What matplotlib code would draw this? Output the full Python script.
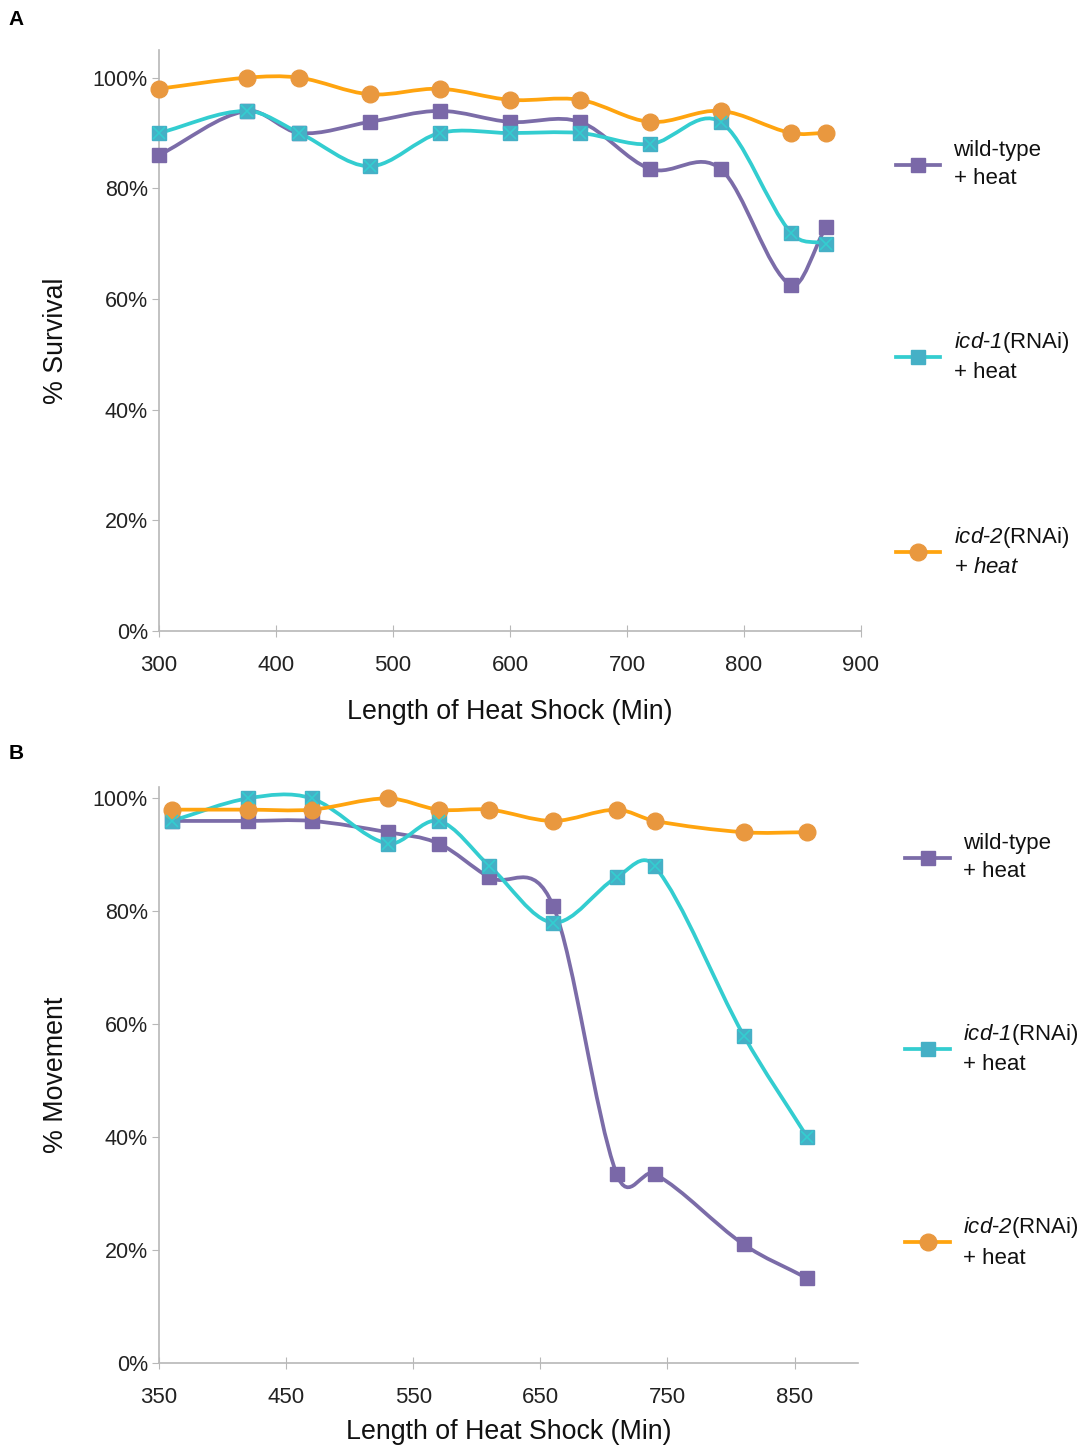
import numpy as np
import matplotlib
matplotlib.use("Agg")
import matplotlib.pyplot as plt
from matplotlib.path import Path
from matplotlib.patches import PathPatch
from matplotlib.lines import Line2D

plt.rcParams["font.family"] = ["Liberation Sans", "DejaVu Sans"]
plt.rcParams["mathtext.fontset"] = "custom"
plt.rcParams["mathtext.it"] = "Liberation Sans:italic"
plt.rcParams["mathtext.sf"] = "Liberation Sans:italic"
plt.rcParams["mathtext.rm"] = "Liberation Sans"

# panel A - survival
surv_x = [300, 375, 420, 480, 540, 600, 660, 720, 780, 840, 870]
surv_wt = [86, 94, 90, 92, 94, 92, 92, 83.5, 83.5, 62.5, 73]
surv_icd1 = [90, 94, 90, 84, 90, 90, 90, 88, 92, 72, 70]
surv_icd2 = [98, 100, 100, 97, 98, 96, 96, 92, 94, 90, 90]

# panel B - movement
move_x = [360, 420, 470, 530, 570, 610, 660, 710, 740, 810, 860]
move_wt = [96, 96, 96, 94, 92, 86, 81, 33.5, 33.5, 21, 15]
move_icd1 = [96, 100, 100, 92, 96, 88, 78, 86, 88, 58, 40]
move_icd2 = [98, 98, 98, 100, 98, 98, 96, 98, 96, 94, 94]

PURPLE = "#7b6ca8"
PURPLE_M = "#7a68a8"
CYAN = "#33cdd0"
CYAN_M = "#45b0c6"
ORANGE = "#ffa40f"
ORANGE_M = "#e9983f"
GRAY = "#b8b8b8"


def smooth_line(ax, x, y, color):
    # smooth curve through the points: cubic hermite as bezier segments
    x = np.asarray(x, float)
    y = np.asarray(y, float)
    n = len(x)
    m = np.zeros(n)
    m[0] = (y[1] - y[0]) / (x[1] - x[0])
    m[-1] = (y[-1] - y[-2]) / (x[-1] - x[-2])
    m[1:-1] = (y[2:] - y[:-2]) / (x[2:] - x[:-2])
    verts = [(x[0], y[0])]
    codes = [Path.MOVETO]
    for i in range(n - 1):
        h = (x[i + 1] - x[i]) / 3
        verts += [(x[i] + h, y[i] + m[i] * h),
                  (x[i + 1] - h, y[i + 1] - m[i + 1] * h),
                  (x[i + 1], y[i + 1])]
        codes += [Path.CURVE4] * 3
    ax.add_patch(PathPatch(Path(verts, codes), fill=False, ec=color,
                           lw=2.7, capstyle="round", joinstyle="round", zorder=2))


def draw_series(ax, x, y, kind):
    if kind == "wt":
        smooth_line(ax, x, y, PURPLE)
        ax.plot(x, y, ls="none", marker="s", ms=10, color=PURPLE_M, zorder=3, clip_on=False)
    elif kind == "icd1":
        smooth_line(ax, x, y, CYAN)
        ax.plot(x, y, ls="none", marker="s", ms=10, color=CYAN_M, zorder=3, clip_on=False)
        ax.plot(x, y, ls="none", marker="x", ms=8, mew=1.2, color=CYAN, zorder=4, clip_on=False)
    else:
        smooth_line(ax, x, y, ORANGE)
        ax.plot(x, y, ls="none", marker="o", ms=12, color=ORANGE_M, zorder=3, clip_on=False)


def style_axis(ax, xlim, ylim, xticks, ylabel, xlabelpad):
    ax.set_xlim(*xlim)
    ax.set_ylim(*ylim)
    ax.set_xticks(xticks)
    ax.set_yticks([0, 20, 40, 60, 80, 100])
    ax.set_yticklabels([f"{v}%" for v in [0, 20, 40, 60, 80, 100]])
    for s in ["top", "right"]:
        ax.spines[s].set_visible(False)
    for s in ["left", "bottom"]:
        ax.spines[s].set_color(GRAY)
        ax.spines[s].set_linewidth(1.2)
    ax.tick_params(axis="x", direction="inout", length=8, color=GRAY, pad=13,
                   labelsize=16, labelcolor="#222222")
    ax.tick_params(axis="y", direction="out", length=5, color=GRAY, pad=3,
                   labelsize=15.5, labelcolor="#222222")
    ax.set_xlabel("Length of Heat Shock (Min)", fontsize=19.3, labelpad=xlabelpad, color="#111111")
    ax.set_ylabel(ylabel, fontsize=19.3, labelpad=17, color="#111111")


def legend_handles():
    wt = Line2D([], [], color=PURPLE, lw=2.7, marker="s", ms=10, mfc=PURPLE_M, mec=PURPLE_M)
    i1 = Line2D([], [], color=CYAN, lw=2.7, marker="s", ms=10, mfc=CYAN_M, mec=CYAN_M)
    i2 = Line2D([], [], color=ORANGE, lw=2.7, marker="o", ms=12, mfc=ORANGE_M, mec=ORANGE_M)
    return [wt, i1, i2]


fig = plt.figure(figsize=(10.78, 14.5), dpi=100)
axA = fig.add_axes([0.1475, 0.5648, 0.6512, 0.4007])
axB = fig.add_axes([0.1475, 0.0600, 0.6485, 0.3972])

draw_series(axA, surv_x, surv_wt, "wt")
draw_series(axA, surv_x, surv_icd1, "icd1")
draw_series(axA, surv_x, surv_icd2, "icd2")
style_axis(axA, (300, 900), (0, 105), range(300, 901, 100), "% Survival", 17)

draw_series(axB, move_x, move_wt, "wt")
draw_series(axB, move_x, move_icd1, "icd1")
draw_series(axB, move_x, move_icd2, "icd2")
style_axis(axB, (350, 900), (0, 102), range(350, 851, 100), "% Movement", 8)

labelsA = ["wild-type\n+ heat", r"$\mathsf{icd}$-$\mathsf{1}$(RNAi)" + "\n+ heat",
           r"$\mathsf{icd}$-$\mathsf{2}$(RNAi)" + "\n" + r"+ $\mathsf{heat}$"]
labelsB = ["wild-type\n+ heat", r"$\mathsf{icd}$-$\mathsf{1}$(RNAi)" + "\n+ heat",
           r"$\mathsf{icd}$-$\mathsf{2}$(RNAi)" + "\n+ heat"]

legA = axA.legend(legend_handles(), labelsA, loc="upper left",
                  bbox_to_anchor=(1.021, 0.88), frameon=False, fontsize=16,
                  labelspacing=6.36, handlelength=2.0, handletextpad=0.6)
legB = axB.legend(legend_handles(), labelsB, loc="upper left",
                  bbox_to_anchor=(1.039, 0.955), frameon=False, fontsize=16,
                  labelspacing=6.3, handlelength=2.0, handletextpad=0.6)
for leg in (legA, legB):
    for t in leg.get_texts():
        t.set_color("#111111")
        t.set_linespacing(1.45)

fig.text(0.008, 0.993, "A", fontsize=15, fontweight="bold", va="top")
fig.text(0.008, 0.487, "B", fontsize=15, fontweight="bold", va="top")

fig.savefig("out.png", dpi=100)
